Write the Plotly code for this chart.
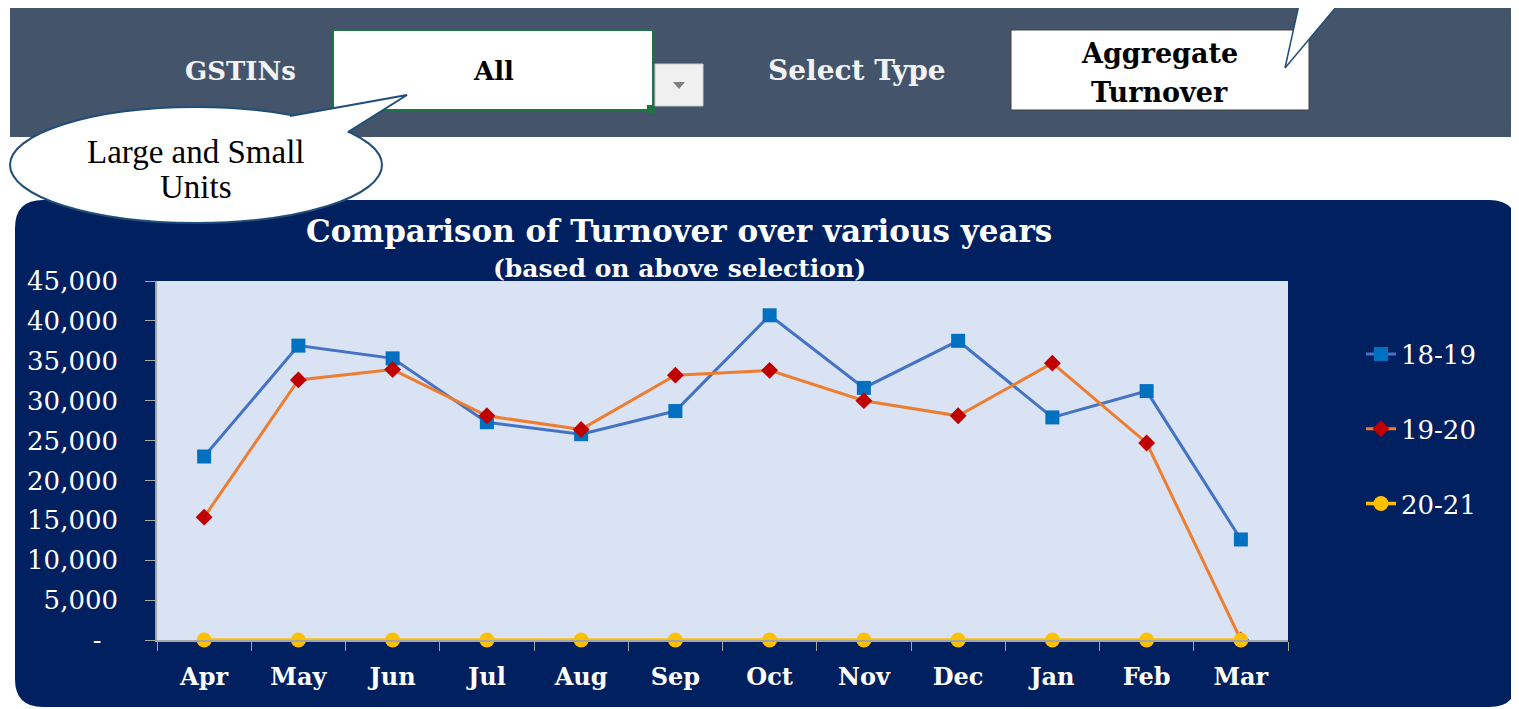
import plotly.graph_objects as go

W, H = 1519, 709
OFF = 8  # page body margin around the plot div

months = ['Apr', 'May', 'Jun', 'Jul', 'Aug', 'Sep', 'Oct', 'Nov', 'Dec', 'Jan', 'Feb', 'Mar']
turnover_18_19 = [23000, 36900, 35300, 27300, 25800, 28700, 40700, 31600, 37500, 27900, 31200, 12600]
turnover_19_20 = [15400, 32600, 33900, 28100, 26400, 33200, 33800, 30000, 28100, 34700, 24700, 0]
turnover_20_21 = [0, 0, 0, 0, 0, 0, 0, 0, 0, 0, 0, 0]

y_tick_vals = [0, 5000, 10000, 15000, 20000, 25000, 30000, 35000, 40000, 45000]
y_tick_text = ['-\u00a0\u00a0', '5,000', '10,000', '15,000', '20,000', '25,000', '30,000', '35,000', '40,000', '45,000']

SERIF = 'DejaVu Serif'
NAVY = '#002060'
SLATE = '#44546a'
BORDER = '#1f4e79'


def px(x):
    return (x - OFF) / W


def py(y):
    return 1 - (y - OFF) / H


def path(cmds):
    # cmds: list of (letter, [x, y, ...]) in screen pixel coords
    out = []
    for c, pts in cmds:
        if c == 'Z':
            out.append('Z')
            continue
        coords = []
        for i in range(0, len(pts), 2):
            coords.append(f'{px(pts[i]):.5f},{py(pts[i + 1]):.5f}')
        out.append(c + ' ' + ' '.join(coords))
    return ' '.join(out)


def rect(x0, y0, x1, y1, fill, line=None, lw=0):
    return dict(type='rect', xref='paper', yref='paper', layer='below',
                x0=px(x0), x1=px(x1), y0=py(y1), y1=py(y0),
                fillcolor=fill, line=dict(color=line or fill, width=lw))


fig = go.Figure()

fig.add_trace(go.Scatter(x=months, y=turnover_18_19, name='18-19', mode='lines+markers',
                         line=dict(color='#4472c4', width=3),
                         marker=dict(symbol='square', size=14, color='#0070c0'),
                         legendgroup='a', cliponaxis=False))
fig.add_trace(go.Scatter(x=months, y=turnover_19_20, name='19-20', mode='lines+markers',
                         line=dict(color='#ed7d31', width=3),
                         marker=dict(symbol='diamond', size=13, color='#c00000'),
                         legendgroup='b', cliponaxis=False))
fig.add_trace(go.Scatter(x=months, y=turnover_20_21, name='20-21', mode='lines+markers',
                         line=dict(color='#ffc000', width=3.5),
                         marker=dict(symbol='circle', size=15, color='#ffc000'),
                         legendgroup='c', cliponaxis=False))

# chart frame
r = 28
x0, y0, x1, y1 = 15, 200, 1517, 707
frame = path([('M', [x0 + r, y0]), ('L', [x1 - r, y0]), ('Q', [x1, y0, x1, y0 + r]),
              ('L', [x1, y1 - r]), ('Q', [x1, y1, x1 - r, y1]), ('L', [x0 + r, y1]),
              ('Q', [x0, y1, x0, y1 - r]), ('L', [x0, y0 + r]), ('Q', [x0, y0, x0 + r, y0]), ('Z', [])])

shapes = [
    rect(10, 3, 1525, 137, SLATE),
    rect(333, 30, 653, 110, 'white', '#217346', 2),
    rect(647, 105, 655, 113, '#217346'),
    rect(655, 64, 703, 106, '#f0f0f0', '#c8c8c8', 1),
    dict(type='path', xref='paper', yref='paper', layer='below',
         path=path([('M', [673, 82]), ('L', [685, 82]), ('L', [679, 89]), ('Z', [])]),
         fillcolor='#7f7f7f', line=dict(width=0)),
    rect(1011, 30, 1309, 110, 'white', '#404040', 1),
    dict(type='path', xref='paper', yref='paper', layer='below',
         path=path([('M', [1300, 0]), ('L', [1285, 68]), ('L', [1342, 0])]),
         fillcolor='white', line=dict(color=BORDER, width=1.5)),
    dict(type='path', xref='paper', yref='paper', layer='below', path=frame,
         fillcolor=NAVY, line=dict(width=0)),
    rect(157, 281, 1288, 640, '#dae3f3'),
    dict(type='circle', xref='paper', yref='paper', layer='below',
         x0=px(10), x1=px(382), y0=py(223), y1=py(107),
         fillcolor='white', line=dict(color=BORDER, width=2)),
    dict(type='path', xref='paper', yref='paper', layer='below',
         path=path([('M', [290, 116]), ('L', [407, 95]), ('L', [348, 132]),
                    ('L', [330, 140]), ('L', [280, 125]), ('Z', [])]),
         fillcolor='white', line=dict(width=0)),
    dict(type='path', xref='paper', yref='paper', layer='below',
         path=path([('M', [290, 116]), ('L', [407, 95]), ('L', [348, 132])]),
         line=dict(color=BORDER, width=2)),
]


def label(text, x, y, size, color, bold=True, family=SERIF):
    return dict(text=text, x=px(x), y=py(y), xref='paper', yref='paper',
                xanchor='center', yanchor='middle', showarrow=False,
                font=dict(family=family, size=size, color=color,
                          weight='bold' if bold else 'normal'))


annotations = [
    label('GSTINs', 240, 71, 26, '#f2f2f2'),
    label('All', 493, 71, 26, 'black'),
    label('Select Type', 857, 71, 28, '#f2f2f2'),
    label('Aggregate', 1159, 53, 27, 'black'),
    label('Turnover', 1159, 92, 27, 'black'),
    label('Large and Small', 196, 152, 33, 'black', bold=False, family='Liberation Serif'),
    label('Units', 196, 187, 33, 'black', bold=False, family='Liberation Serif'),
    label('Comparison of Turnover over various years', 679, 231, 31, 'white'),
    label('(based on above selection)', 679, 268, 25, 'white'),
]

fig.update_layout(
    width=W, height=H,
    margin=dict(l=0, r=0, t=0, b=0, autoexpand=False),
    paper_bgcolor='white',
    plot_bgcolor='rgba(0,0,0,0)',
    shapes=shapes,
    annotations=annotations,
    showlegend=True,
    legend=dict(x=px(1361), y=py(429), xanchor='left', yanchor='middle',
                bgcolor='rgba(0,0,0,0)', tracegroupgap=38,
                font=dict(family=SERIF, size=26, color='white')),
    xaxis=dict(domain=[px(157), px(1288)], range=[-0.5, 11.5], automargin=False,
               showgrid=False, zeroline=False,
               showline=True, linecolor='#a6a6a6', linewidth=1.5,
               ticks='outside', tickson='boundaries', ticklen=9, tickcolor='#a6a6a6',
               ticklabelstandoff=14,
               tickfont=dict(family=SERIF, size=24, color='white', weight='bold')),
    yaxis=dict(domain=[py(640), py(281)], range=[0, 45000], automargin=False,
               showgrid=False, zeroline=False,
               showline=True, linecolor='#a6a6a6', linewidth=1.5,
               tickvals=y_tick_vals, ticktext=y_tick_text,
               ticks='outside', ticklen=10, tickcolor='#a6a6a6',
               ticklabelstandoff=22,
               tickfont=dict(family=SERIF, size=26, color='white')),
)

fig.write_html('out.html')
